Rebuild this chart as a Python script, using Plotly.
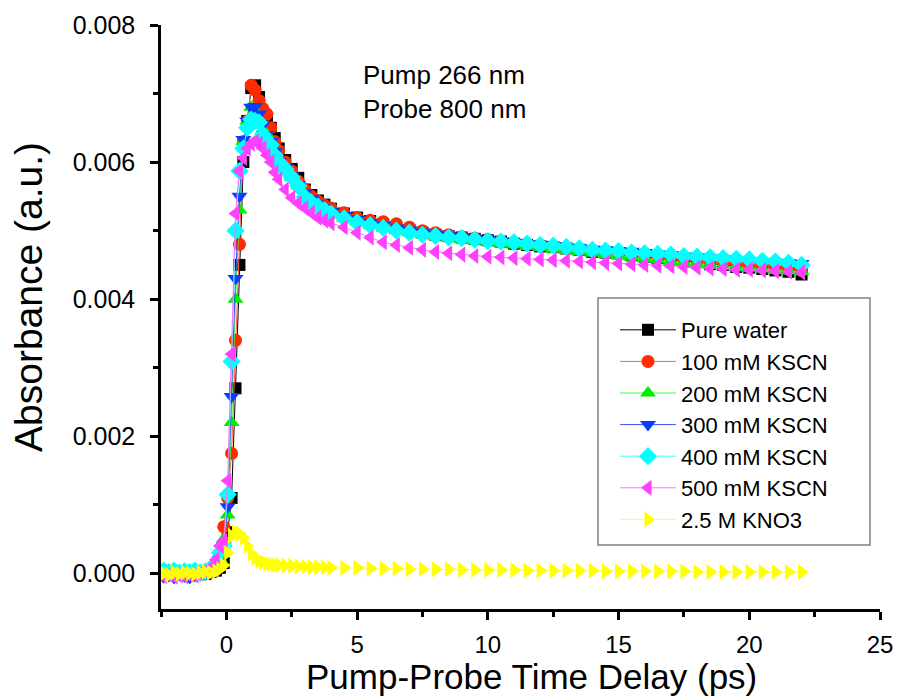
import plotly.graph_objects as go

# ---------------- data ----------------
TIME = [-2.4, -2.2, -2.0, -1.8, -1.6, -1.4, -1.2, -1.0, -0.8, -0.6, -0.4, -0.25,
        -0.1, 0.05, 0.2, 0.35, 0.5, 0.65, 0.8, 0.95, 1.1, 1.25, 1.4, 1.55, 1.7, 1.85, 2.0,
        2.25, 2.5, 2.75, 3.0, 3.25, 3.5, 3.75, 4.0,
        4.5, 5.0, 5.5, 6.0, 6.5, 7.0, 7.5, 8.0, 8.5, 9.0, 9.5, 10.0, 10.5, 11.0, 11.5, 12.0,
        12.5, 13.0, 13.5, 14.0, 14.5, 15.0, 15.5, 16.0, 16.5, 17.0, 17.5, 18.0, 18.5, 19.0,
        19.5, 20.0, 20.5, 21.0, 21.5, 22.0]

PURE_WATER = [0.00002, -0.00002, 0.00001, -0.00001, 0.00002, -0.00002, 0.00000, 0.00001, -0.00001, 0.00002, 0.00004, 0.00008,
              0.00015, 0.00060, 0.00110, 0.00270, 0.00450, 0.00600, 0.00660, 0.00708, 0.00712, 0.00695, 0.00672, 0.00662, 0.00650, 0.00635, 0.00620,
              0.00603, 0.00590, 0.00577, 0.00560, 0.00552, 0.00544, 0.00538, 0.00532,
              0.00525, 0.00519, 0.00514, 0.00509, 0.00505, 0.00501, 0.00497, 0.00494, 0.00492, 0.00490, 0.00488, 0.00486, 0.00484, 0.00481, 0.00479, 0.00477,
              0.00476, 0.00474, 0.00472, 0.00469, 0.00468, 0.00467, 0.00464, 0.00462, 0.00460, 0.00458, 0.00455, 0.00454, 0.00451, 0.00450,
              0.00447, 0.00446, 0.00444, 0.00442, 0.00440, 0.00436]

KSCN_100 = [-0.00002, 0.00001, -0.00003, 0.00002, -0.00001, 0.00000, -0.00002, 0.00002, 0.00000, 0.00003, 0.00010, 0.00025,
            0.00068, 0.00110, 0.00175, 0.00340, 0.00480, 0.00630, 0.00660, 0.00712, 0.00705, 0.00690, 0.00678, 0.00670, 0.00650, 0.00630, 0.00617,
            0.00600, 0.00587, 0.00572, 0.00560, 0.00550, 0.00543, 0.00537, 0.00533,
            0.00526, 0.00519, 0.00515, 0.00513, 0.00510, 0.00505, 0.00500, 0.00497, 0.00494, 0.00491, 0.00489, 0.00487, 0.00485, 0.00482, 0.00481, 0.00479,
            0.00477, 0.00475, 0.00473, 0.00471, 0.00469, 0.00467, 0.00466, 0.00464, 0.00461, 0.00460, 0.00458, 0.00457, 0.00455, 0.00453,
            0.00451, 0.00449, 0.00448, 0.00446, 0.00444, 0.00442]

KSCN_200 = [0.00003, 0.00000, 0.00002, -0.00002, 0.00001, 0.00003, -0.00001, 0.00002, 0.00003, 0.00004, 0.00012, 0.00022,
            0.00050, 0.00085, 0.00220, 0.00400, 0.00530, 0.00630, 0.00660, 0.00680, 0.00675, 0.00660, 0.00648, 0.00640, 0.00630, 0.00615, 0.00600,
            0.00590, 0.00578, 0.00565, 0.00552, 0.00543, 0.00536, 0.00530, 0.00525,
            0.00518, 0.00513, 0.00508, 0.00504, 0.00500, 0.00497, 0.00494, 0.00491, 0.00489, 0.00487, 0.00485, 0.00483, 0.00481, 0.00479, 0.00477, 0.00475,
            0.00473, 0.00471, 0.00469, 0.00467, 0.00465, 0.00463, 0.00461, 0.00459, 0.00457, 0.00455, 0.00453, 0.00452, 0.00450, 0.00448,
            0.00446, 0.00445, 0.00444, 0.00442, 0.00441, 0.00440]

KSCN_300 = [-0.00005, -0.00003, -0.00006, -0.00002, -0.00004, -0.00006, -0.00003, -0.00002, -0.00001, 0.00002, 0.00010, 0.00020,
            0.00040, 0.00097, 0.00258, 0.00430, 0.00550, 0.00633, 0.00660, 0.00680, 0.00681, 0.00670, 0.00655, 0.00640, 0.00630, 0.00615, 0.00600,
            0.00592, 0.00580, 0.00567, 0.00555, 0.00546, 0.00539, 0.00533, 0.00528,
            0.00522, 0.00517, 0.00512, 0.00508, 0.00504, 0.00501, 0.00498, 0.00495, 0.00493, 0.00491, 0.00489, 0.00487, 0.00485, 0.00483, 0.00481, 0.00480,
            0.00478, 0.00476, 0.00475, 0.00473, 0.00472, 0.00471, 0.00470, 0.00468, 0.00466, 0.00465, 0.00463, 0.00462, 0.00460, 0.00459,
            0.00457, 0.00456, 0.00455, 0.00454, 0.00453, 0.00452]

KSCN_400 = [0.00004, 0.00002, 0.00004, 0.00001, 0.00003, 0.00002, 0.00004, 0.00001, 0.00003, 0.00006, 0.00015, 0.00030,
            0.00040, 0.00115, 0.00309, 0.00500, 0.00587, 0.00620, 0.00650, 0.00662, 0.00660, 0.00658, 0.00640, 0.00630, 0.00625, 0.00610, 0.00600,
            0.00590, 0.00578, 0.00565, 0.00549, 0.00541, 0.00535, 0.00530, 0.00525,
            0.00518, 0.00512, 0.00508, 0.00504, 0.00500, 0.00497, 0.00494, 0.00492, 0.00490, 0.00489, 0.00487, 0.00485, 0.00484, 0.00483, 0.00481, 0.00479,
            0.00478, 0.00476, 0.00474, 0.00472, 0.00471, 0.00470, 0.00468, 0.00467, 0.00466, 0.00465, 0.00463, 0.00462, 0.00461, 0.00460,
            0.00459, 0.00458, 0.00456, 0.00455, 0.00453, 0.00450]

KSCN_500 = [-0.00004, -0.00002, -0.00005, -0.00003, -0.00004, -0.00002, -0.00003, 0.00000, 0.00003, 0.00008, 0.00020, 0.00040,
            0.00048, 0.00135, 0.00320, 0.00525, 0.00587, 0.00606, 0.00620, 0.00627, 0.00630, 0.00627, 0.00620, 0.00610, 0.00600, 0.00585, 0.00575,
            0.00560, 0.00548, 0.00540, 0.00533, 0.00526, 0.00519, 0.00515, 0.00511,
            0.00505, 0.00497, 0.00490, 0.00483, 0.00479, 0.00475, 0.00472, 0.00469, 0.00467, 0.00465, 0.00463, 0.00462, 0.00461, 0.00460, 0.00459, 0.00458,
            0.00457, 0.00456, 0.00455, 0.00454, 0.00453, 0.00452, 0.00451, 0.00450, 0.00449, 0.00448, 0.00447, 0.00446, 0.00445, 0.00444,
            0.00443, 0.00443, 0.00442, 0.00441, 0.00440, 0.00439]

KNO3_25M = [0.00000, -0.00002, 0.00001, -0.00001, 0.00001, 0.00000, -0.00001, 0.00001, 0.00002, 0.00001, 0.00003, 0.00006,
            0.00012, 0.00030, 0.00055, 0.00060, 0.00058, 0.00052, 0.00040, 0.00029, 0.00022, 0.00018, 0.00016, 0.00014, 0.00013, 0.00012, 0.00012,
            0.00011, 0.00011, 0.00010, 0.00010, 0.00009, 0.00009, 0.00009, 0.00008,
            0.00008, 0.00008, 0.00007, 0.00007, 0.00007, 0.00006, 0.00006, 0.00006, 0.00006, 0.00005, 0.00005, 0.00005, 0.00005, 0.00005, 0.00004, 0.00004,
            0.00004, 0.00004, 0.00004, 0.00004, 0.00003, 0.00003, 0.00003, 0.00003, 0.00003, 0.00003, 0.00003, 0.00002, 0.00002, 0.00002,
            0.00002, 0.00002, 0.00002, 0.00002, 0.00002, 0.00002]

SERIES_NAMES = ["Pure water", "100 mM KSCN", "200 mM KSCN", "300 mM KSCN",
                "400 mM KSCN", "500 mM KSCN", "2.5 M KNO3"]
SERIES_VALUES = [PURE_WATER, KSCN_100, KSCN_200, KSCN_300, KSCN_400, KSCN_500, KNO3_25M]

X_TICKS = [0, 5, 10, 15, 20, 25]
Y_TICKS = [0.000, 0.002, 0.004, 0.006, 0.008]

# ---------------- styles ----------------
MARKER_COLORS = ["#000000", "#ff2a00", "#00ee00", "#0a3cff", "#00ffff", "#ff40ff", "#ffff00"]
LINE_COLORS = ["#000000", "#ff6040", "#40ff40", "#3050ff", "#40ffff", "#ff70ff", "#ffff40"]
SYMBOLS = ["square", "circle", "triangle-up", "triangle-down", "diamond", "triangle-left", "triangle-right"]
SIZES = [12, 13, 14, 14, 14, 14, 14]

FONT = "Liberation Sans, Arial, sans-serif"

fig = go.Figure()
for name, vals, mc, lc, sym, sz in zip(SERIES_NAMES, SERIES_VALUES, MARKER_COLORS,
                                       LINE_COLORS, SYMBOLS, SIZES):
    fig.add_trace(go.Scatter(
        x=TIME, y=vals, name=name, mode="lines+markers",
        line=dict(color=lc, width=1),
        marker=dict(symbol=sym, size=sz, color=mc, line=dict(width=0)),
    ))

W, H = 897, 698
L, R, T, B = 161, 17, 25, 89
PW, PH = W - L - R, H - T - B


def px(xp):
    return (xp - L) / PW


def py(yp):
    return (H - B - yp) / PH


fig.update_layout(
    width=W, height=H,
    margin=dict(l=L, r=R, t=T, b=B, pad=0),
    paper_bgcolor="white", plot_bgcolor="white",
    font=dict(family=FONT, color="black"),
    showlegend=True,
    legend=dict(
        x=px(615), y=py(309), xanchor="left", yanchor="top",
        bgcolor="rgba(0,0,0,0)", borderwidth=0,
        font=dict(family=FONT, size=22, color="black"),
        itemwidth=56, tracegroupgap=0,
    ),
    shapes=[dict(type="rect", xref="paper", yref="paper",
                 x0=px(598), x1=px(870), y0=py(545), y1=py(298),
                 line=dict(color="#808080", width=1.5), fillcolor="rgba(0,0,0,0)",
                 layer="below")],
    annotations=[
        dict(text="Pump 266 nm<br>Probe 800 nm", xref="paper", yref="paper",
             x=px(361), y=py(58), xanchor="left", yanchor="top", align="left",
             showarrow=False, font=dict(family=FONT, size=26, color="black")),
        dict(text="Pump-Probe Time Delay (ps)", xref="paper", yref="paper",
             x=px(531), y=py(676), xanchor="center", yanchor="middle",
             showarrow=False, font=dict(family=FONT, size=35, color="black")),
        dict(text="Absorbance (a.u.)", xref="paper", yref="paper", textangle=-90,
             x=px(28), y=py(297), xanchor="center", yanchor="middle",
             showarrow=False, font=dict(family=FONT, size=39, color="black")),
    ],
)

fig.update_xaxes(
    range=[-2.5, 25], tickvals=X_TICKS, ticktext=[str(v) for v in X_TICKS],
    showgrid=False, zeroline=False,
    showline=True, linecolor="black", linewidth=2.5, mirror=False,
    ticks="outside", ticklen=8, tickwidth=2.5, tickcolor="black",
    minor=dict(dtick=2.5, tick0=0, ticks="outside", ticklen=5, tickwidth=2.5, tickcolor="black", showgrid=False),
    tickfont=dict(family=FONT, size=24, color="black"), ticklabelstandoff=4,
    automargin=False,
)
fig.update_yaxes(
    range=[-0.00052, 0.008], tickvals=Y_TICKS, ticktext=["%.3f" % v for v in Y_TICKS],
    showgrid=False, zeroline=False,
    showline=True, linecolor="black", linewidth=2.5, mirror=False,
    ticks="outside", ticklen=8, tickwidth=2.5, tickcolor="black",
    minor=dict(dtick=0.001, tick0=0, ticks="outside", ticklen=5, tickwidth=2.5, tickcolor="black", showgrid=False),
    tickfont=dict(family=FONT, size=25, color="black"), ticklabelstandoff=10,
    automargin=False,
)

fig.write_html("out.html")
